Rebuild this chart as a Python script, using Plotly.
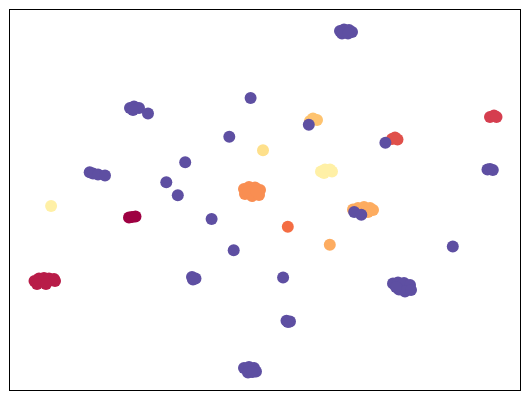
import plotly.graph_objects as go

# Embedding coordinates (x, y) per group
groups = ["g0", "g1", "g2", "g3", "g4", "g5", "g6", "g7", "g8", "g9", "g10", "g11"]
group_colors = ["#9e0142", "#b81c48", "#d53e4f", "#e0504a", "#f46d43", "#f98e52",
                "#fdac60", "#fdac60", "#fec36f", "#fee08b", "#fff0a6", "#5e4fa2"]

g0_x = [129, 132, 135.5]
g0_y = [217.5, 217, 216.5]

g1_x = [34.5, 39, 44, 49, 54, 55, 37, 46]
g1_y = [281, 278.5, 278, 278.5, 279, 281, 284, 284]

g2_x = [490, 494, 496.5]
g2_y = [117, 115.5, 117]

g3_x = [392, 395, 397.5]
g3_y = [139, 137.5, 139.5]

g4_x = [287.8]
g4_y = [226.8]

g5_x = [244, 249, 255, 260, 245, 252, 259, 248, 256]
g5_y = [189, 187, 187.5, 190, 194, 196, 195, 192, 191]

g6_x = [353, 358, 364, 370, 373, 362, 368]
g6_y = [209.5, 208, 207, 208, 210, 212, 212]

g7_x = [329.8]
g7_y = [244.8]

g8_x = [310, 313, 317]
g8_y = [121, 118.5, 120]

g9_x = [263]
g9_y = [150.2]

g10_x = [321, 325, 330, 332, 324, 51.1]
g10_y = [171.5, 169.5, 169.5, 171.5, 173, 206]

g11_x = [340, 344, 349, 352, 342, 348,
         130, 134, 139, 133, 148,
         89.7, 93, 98, 105,
         487.5, 490, 492.8,
         393, 398, 404, 410, 399, 405, 411, 396,
         244, 249, 254, 256, 248, 252,
         192, 195.5, 193,
         286.5, 290, 288,
         250.6, 229.3, 185.2, 166.3, 177.8, 211.6, 233.7, 283.1, 452.8,
         308.8, 385.4, 354.2, 361.3]
g11_y = [31, 29.5, 30, 32, 33.5, 33.5,
         108, 106.5, 108, 110, 113.4,
         172.2, 173.5, 174.5, 175.6,
         169.5, 169, 170,
         283.5, 282.5, 283, 285, 289.5, 291.5, 290, 287,
         368, 367, 368, 371.5, 372.5, 372,
         277, 278.5, 279.5,
         320.7, 321.5, 322,
         98, 136.8, 162.2, 182.3, 195.3, 219, 250.2, 277.6, 246.5,
         124.7, 142.8, 212, 214.7]

xs = [g0_x, g1_x, g2_x, g3_x, g4_x, g5_x, g6_x, g7_x, g8_x, g9_x, g10_x, g11_x]
ys = [g0_y, g1_y, g2_y, g3_y, g4_y, g5_y, g6_y, g7_y, g8_y, g9_y, g10_y, g11_y]

fig = go.Figure()
for name, c, x, y in zip(groups, group_colors, xs, ys):
    fig.add_trace(go.Scatter(
        x=x, y=y, mode="markers", name=name,
        marker=dict(color=c, size=12, line=dict(width=0)),
        showlegend=False, hoverinfo="skip"))

axis_common = dict(showticklabels=False, ticks="", showgrid=False, zeroline=False,
                   showline=True, linecolor="black", linewidth=1, mirror=True)
fig.update_xaxes(range=[10, 520], **axis_common)
fig.update_yaxes(range=[390, 10], **axis_common)
# page body has an 8px margin, so the figure is sized to fit inside it
fig.update_layout(width=515, height=385,
                  margin=dict(l=2, r=3, t=2, b=3),
                  plot_bgcolor="white", paper_bgcolor="white")
fig.write_html("out.html")
